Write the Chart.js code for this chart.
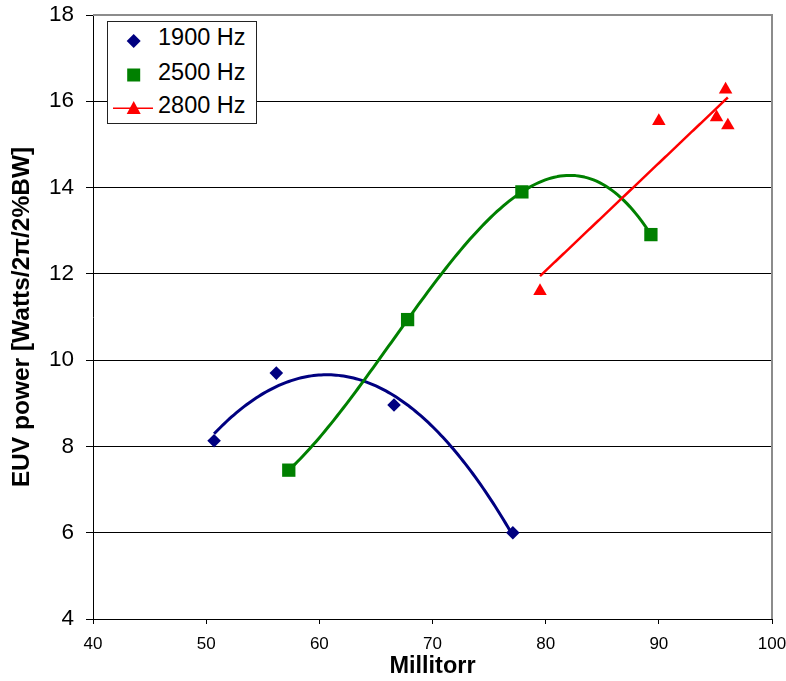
<!DOCTYPE html>
<html>
<head>
<meta charset="utf-8">
<title>EUV power vs Millitorr</title>
<script src="https://cdn.jsdelivr.net/npm/chart.js@4/dist/chart.umd.min.js"></script>
<style>
    body { margin: 0; background: #fff; }
    #wrap { position: relative; width: 786px; height: 681px; }
    #legend-box { position: absolute; left: 107px; top: 21px; width: 148px; height: 101px; border: 1px solid #222; background: #fff; }
    .legend-text { position: absolute; left: 158px; height: 30px; line-height: 30px; font: 23.5px "Liberation Sans", Arial, sans-serif; color: #000; white-space: nowrap; }
    .legend-mark { position: absolute; left: 110px; }
</style>
</head>
<body>
<div id="wrap">
    <canvas id="chart" width="786" height="681"></canvas>
    <div id="legend-box"></div>
    <svg class="legend-mark" style="top:30px" width="48" height="22"><polygon points="23.7,4 30.7,11 23.7,18 16.7,11" fill="#000080"/></svg>
    <svg class="legend-mark" style="top:64px" width="48" height="22"><rect x="17.2" y="4.5" width="13" height="13" fill="#008000"/></svg>
    <svg class="legend-mark" style="top:97px" width="48" height="22"><line x1="3" y1="11.3" x2="43" y2="11.3" stroke="#ff0000" stroke-width="1.5"/><polygon points="23.7,4 30.7,17 16.7,17" fill="#ff0000"/></svg>
    <div class="legend-text" style="top:23.6px">1900 Hz</div>
    <div class="legend-text" style="top:58.6px">2500 Hz</div>
    <div class="legend-text" style="top:92px">2800 Hz</div>
</div>
<script>
// values
const mtorr1900 = [50.7, 56.2, 66.6, 77.1];
const euv1900 = [8.13, 9.70, 8.96, 6.0];
const mtorr2500 = [57.3, 67.8, 77.9, 89.3];
const euv2500 = [7.45, 10.94, 13.90, 12.91];
const mtorr2800 = [79.5, 90.0, 95.1, 95.9, 96.1];
const euv2800 = [11.6, 15.54, 15.63, 16.27, 15.44];

const seriesNames = ["1900 Hz", "2500 Hz", "2800 Hz"];
const seriesColors = ["#000080", "#008000", "#ff0000"];
const xTitle = "Millitorr";
const yTitle = "EUV power [Watts/2\u03c0/2%BW]";

function toPoints(xs, ys) {
    return xs.map((x, i) => ({ x: x, y: ys[i] }));
}

// least squares polynomial fit (like excel trendline)
function polyfit(xs, ys, deg) {
    const n = deg + 1;
    const mx = xs.reduce((s, x) => s + x, 0) / xs.length; // centre x for stability
    const A = [];
    for (let r = 0; r < n; r++) {
        A.push([]);
        for (let c = 0; c < n; c++) {
            A[r].push(xs.reduce((s, x) => s + Math.pow(x - mx, r + c), 0));
        }
        A[r].push(xs.reduce((s, x, i) => s + ys[i] * Math.pow(x - mx, r), 0));
    }
    for (let i = 0; i < n; i++) {
        let p = i;
        for (let k = i + 1; k < n; k++) if (Math.abs(A[k][i]) > Math.abs(A[p][i])) p = k;
        [A[i], A[p]] = [A[p], A[i]];
        for (let k = i + 1; k < n; k++) {
            const f = A[k][i] / A[i][i];
            for (let c = i; c <= n; c++) A[k][c] -= f * A[i][c];
        }
    }
    const coef = new Array(n).fill(0);
    for (let i = n - 1; i >= 0; i--) {
        let s = A[i][n];
        for (let c = i + 1; c < n; c++) s -= A[i][c] * coef[c];
        coef[i] = s / A[i][i];
    }
    return x => coef.reduce((s, c, k) => s + c * Math.pow(x - mx, k), 0);
}

const trends = [
    { xs: mtorr1900, ys: euv1900, deg: 2, color: seriesColors[0], width: 3 },
    { xs: mtorr2500, ys: euv2500, deg: 3, color: seriesColors[1], width: 3 },
    { xs: mtorr2800, ys: euv2800, deg: 1, color: seriesColors[2], width: 2.5 }
];

const trendPlugin = {
    id: "trendlines",
    beforeDatasetsDraw(chart) {
        const ctx = chart.ctx;
        const xs = chart.scales.x, ys = chart.scales.y;
        const area = chart.chartArea;

        // plot area frame (grey top/right)
        ctx.save();
        ctx.strokeStyle = "#8c8c8c";
        ctx.lineWidth = 2;
        ctx.beginPath();
        ctx.moveTo(area.left, area.top);
        ctx.lineTo(area.right, area.top);
        ctx.lineTo(area.right, area.bottom);
        ctx.stroke();
        ctx.restore();

        trends.forEach(t => {
            const f = polyfit(t.xs, t.ys, t.deg);
            const x0 = Math.min(...t.xs), x1 = Math.max(...t.xs);
            ctx.save();
            ctx.strokeStyle = t.color;
            ctx.lineWidth = t.width;
            ctx.lineJoin = "round";
            ctx.beginPath();
            for (let i = 0; i <= 120; i++) {
                const x = x0 + (x1 - x0) * i / 120;
                const px = xs.getPixelForValue(x), py = ys.getPixelForValue(f(x));
                if (i === 0) ctx.moveTo(px, py); else ctx.lineTo(px, py);
            }
            ctx.stroke();
            ctx.restore();
        });
    }
};

function noScalePadding(scale) {
    scale.paddingTop = 0;
    scale.paddingBottom = 0;
    scale.paddingLeft = 0;
    scale.paddingRight = 0;
}

const chart = new Chart(document.getElementById("chart").getContext("2d"), {
    type: "scatter",
    data: {
        datasets: [
            { label: seriesNames[0], data: toPoints(mtorr1900, euv1900), pointStyle: "rectRot", pointRadius: 6.8, backgroundColor: seriesColors[0], borderColor: seriesColors[0], borderWidth: 0 },
            { label: seriesNames[1], data: toPoints(mtorr2500, euv2500), pointStyle: "rect", pointRadius: 9.4, backgroundColor: seriesColors[1], borderColor: seriesColors[1], borderWidth: 0 },
            { label: seriesNames[2], data: toPoints(mtorr2800, euv2800), pointStyle: "triangle", pointRadius: 7.8, backgroundColor: seriesColors[2], borderColor: seriesColors[2], borderWidth: 0 }
        ]
    },
    options: {
        responsive: false,
        animation: false,
        events: [],
        layout: { padding: { top: 15, right: 14, left: 0, bottom: 0 } },
        plugins: {
            legend: { display: false },
            tooltip: { enabled: false }
        },
        scales: {
            x: {
                type: "linear",
                min: 40,
                max: 100,
                afterFit: (scale) => { scale.height = 62; noScalePadding(scale); },
                ticks: { stepSize: 10, padding: 10, color: "#000", font: { family: "Liberation Sans", size: 17 } },
                grid: { drawOnChartArea: false, tickLength: 5, color: "#000" },
                border: { color: "#000", width: 1 },
                title: { display: true, text: xTitle, color: "#000", font: { family: "Liberation Sans", size: 23.5, weight: "bold" }, padding: { top: 0, bottom: 0 } }
            },
            y: {
                min: 4,
                max: 18,
                afterFit: (scale) => { scale.width = 93; noScalePadding(scale); },
                ticks: { stepSize: 2, padding: 12, color: "#000", font: { family: "Liberation Sans", size: 22.5 } },
                grid: { color: "#000", lineWidth: 1, tickLength: 7 },
                border: { color: "#000", width: 1 },
                title: { display: true, text: yTitle, color: "#000", font: { family: "Liberation Sans", size: 24.5, weight: "bold" }, padding: { top: 8, bottom: 0 } }
            }
        }
    },
    plugins: [trendPlugin]
});
</script>
</body>
</html>
